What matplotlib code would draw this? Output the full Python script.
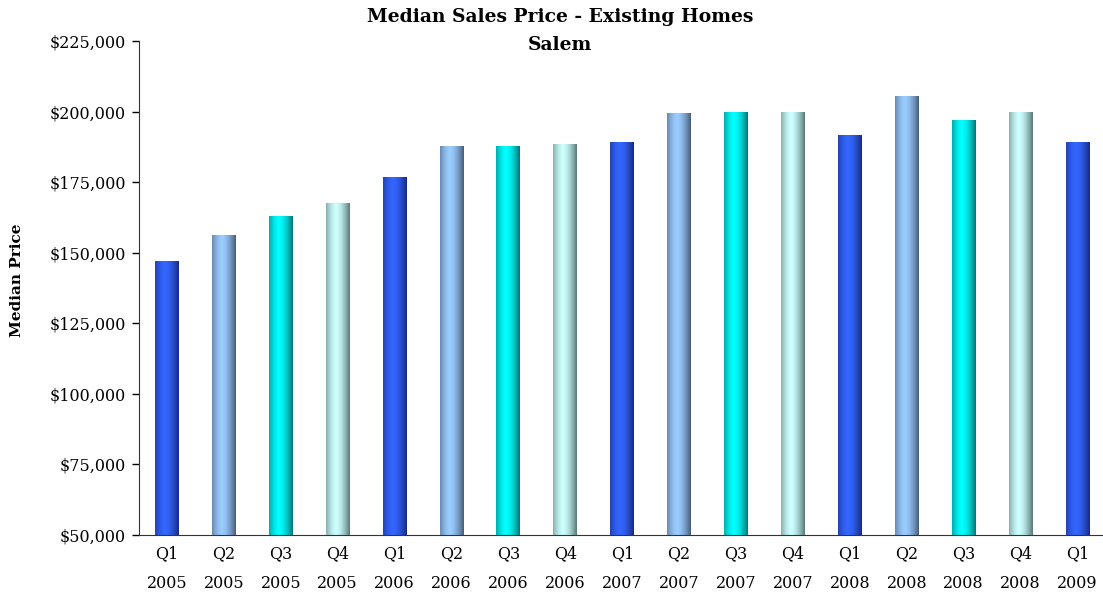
"""
Median sales price of existing homes in Salem, by quarter
"""

import numpy as np
import matplotlib
matplotlib.use("Agg")
import matplotlib.pyplot as plt
from matplotlib.colors import LinearSegmentedColormap
from matplotlib.ticker import FuncFormatter

quarters = ["Q1", "Q2", "Q3", "Q4", "Q1", "Q2", "Q3", "Q4", "Q1",
            "Q2", "Q3", "Q4", "Q1", "Q2", "Q3", "Q4", "Q1"]
years = ["2005", "2005", "2005", "2005", "2006", "2006", "2006", "2006", "2007",
         "2007", "2007", "2007", "2008", "2008", "2008", "2008", "2009"]
prices = [147000, 156000, 163000, 167600, 176500, 187800, 187800, 188200, 189200,
          199300, 199600, 199600, 191400, 205200, 197000, 199600, 189200]

# (edge colour, highlight colour) for the four quarter styles
bar_styles = [
    ("#182a80", "#3366ff"),
    ("#485c78", "#99ccff"),
    ("#007575", "#00ffff"),
    ("#5a7876", "#ccffff"),
]

plt.rcParams["font.family"] = ["DejaVu Serif"]

fig = plt.figure(figsize=(11.03, 6.01), dpi=100)
ax = fig.add_axes([138.5 / 1103, 1 - 535 / 601, (1106 - 138.5) / 1103, (535 - 41) / 601])

ax.set_xlim(-0.5, len(prices) - 0.5)
ax.set_ylim(50000, 225000)

x = np.arange(len(prices))
bars = ax.bar(x, prices, width=0.42, color="none", edgecolor="none")

# horizontal shading like a cylinder, brightest a bit left of centre
t = np.linspace(0, 1, 64)
shade = np.clip(1 - (np.abs(t - 0.42) / 0.58) ** 1.6, 0, 1)
shade = shade[np.newaxis, :]

y_floor = ax.get_ylim()[0]
for i, patch in enumerate(bars):
    edge, mid = bar_styles[i % 4]
    cmap = LinearSegmentedColormap.from_list(f"s{i % 4}", [edge, mid])
    bx, bw = patch.get_x(), patch.get_width()
    top = patch.get_y() + patch.get_height()
    ax.imshow(shade, cmap=cmap, vmin=0, vmax=1, aspect="auto",
              extent=(bx, bx + bw, max(patch.get_y(), y_floor), top),
              interpolation="bilinear", zorder=2)

ax.set_xlim(-0.5, len(prices) - 0.5)
ax.set_ylim(50000, 225000)
ax.set_yticks(np.arange(50000, 225001, 25000))
ax.yaxis.set_major_formatter(FuncFormatter(lambda v, _: f"${v:,.0f}"))
ax.set_xticks(x)
ax.set_xticklabels([f"{q}\n{y}" for q, y in zip(quarters, years)], linespacing=2.05)

ax.tick_params(axis="x", length=0, pad=7, labelsize=11.5)
ax.tick_params(axis="y", length=5, width=1, pad=4, labelsize=11.5)
for side in ("top", "right"):
    ax.spines[side].set_visible(False)
for side in ("left", "bottom"):
    ax.spines[side].set_color("#333333")

fig.text(560 / 1103, 1 - 17 / 601, "Median Sales Price - Existing Homes",
         ha="center", va="center", fontsize=13.5, fontweight="bold")
fig.text(560 / 1103, 1 - 45 / 601, "Salem",
         ha="center", va="center", fontsize=13.5, fontweight="bold")
fig.text(17 / 1103, 1 - 280 / 601, "Median Price", rotation=90,
         ha="center", va="center", fontsize=11, fontweight="bold")

fig.savefig("out.png", dpi=100)
